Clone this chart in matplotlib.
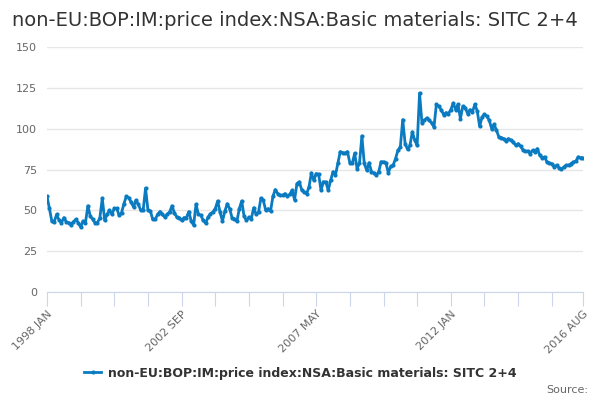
import matplotlib
matplotlib.use("Agg")
import matplotlib.pyplot as plt
from matplotlib.lines import Line2D

title = "non-EU:BOP:IM:price index:NSA:Basic materials: SITC 2+4"
series_name = "non-EU:BOP:IM:price index:NSA:Basic materials: SITC 2+4"

values_1998_2003 = [
    58.5, 51.2, 43.4, 43.0, 47.5, 44.0, 42.4, 45.5, 43.0, 42.4, 41.3, 43.0,
    44.4, 42.4, 39.7, 43.4, 42.4, 52.7, 46.5, 44.4, 42.4, 42.4, 45.5, 57.4,
    43.8, 47.5, 50.0, 47.5, 51.2, 51.2, 46.9, 48.5, 54.0, 58.5, 57.8, 55.0,
    52.0, 56.2, 53.7, 50.0, 50.0, 63.6, 50.0, 49.6, 44.4, 44.4, 47.5, 49.2,
    47.5, 45.9, 47.5, 49.0, 52.7, 48.5, 45.9, 45.5, 43.8, 45.5, 45.5, 49.2,
    43.4, 40.9, 53.7, 47.5,
]
values_2003_2009 = [
    47.0, 43.8, 42.1, 45.8, 47.9, 48.9, 51.0, 55.7, 48.9, 43.4, 49.5, 54.0,
    51.0, 45.4, 44.8, 43.2, 51.0, 55.7, 46.3, 43.8, 45.8, 44.8, 51.6, 47.5,
    48.9, 57.5, 56.1, 50.0, 51.0, 49.5, 58.6, 62.7, 60.2, 59.2, 59.2, 60.2,
    58.6, 59.8, 62.3, 56.5, 66.4, 67.4, 62.3, 61.2, 60.2, 64.3, 72.9, 68.4,
    72.5, 72.1, 62.3, 67.4, 67.4, 62.3, 68.4, 73.6, 71.5, 78.7, 85.9, 85.3,
    84.9, 85.9, 79.1, 78.7, 84.9, 75.6, 78.7, 95.5, 78.7, 74.6, 79.1, 73.6,
    72.9, 71.5, 73.6, 79.7, 79.7, 79.1, 72.9,
]
values_2009_2016 = [
    76.9, 77.6, 81.6, 86.7, 88.8, 105.5, 90.8, 87.3, 89.8, 98.0, 92.9, 89.8,
    121.8, 103.5, 105.1, 106.5, 105.1, 103.5, 101.0, 114.9, 113.7, 111.6, 108.6, 109.8,
    109.2, 111.6, 115.7, 111.6, 114.9, 106.1, 113.7, 112.9, 109.2, 111.6, 110.2, 114.9,
    110.8, 101.4, 107.1, 108.8, 107.6, 105.1, 100.0, 102.7, 99.0, 94.9, 94.5, 93.9,
    92.4, 93.9, 92.9, 91.8, 89.8, 90.8, 89.2, 87.1, 86.1, 86.3, 84.7, 86.7,
    85.7, 87.8, 83.7, 82.2, 82.7, 79.6, 79.0, 78.6, 76.5, 77.6, 76.1, 75.1,
    76.5, 77.6, 77.6, 78.6, 79.6, 80.0, 82.7, 82.2, 82.2,
]
values = values_1998_2003 + values_2003_2009 + values_2009_2016

months = ["JAN", "FEB", "MAR", "APR", "MAY", "JUN", "JUL", "AUG", "SEP", "OCT", "NOV", "DEC"]
categories = [f"{1998 + k // 12} {months[k % 12]}" for k in range(len(values))]
label_positions = [0, 56, 112, 168, 223]
y_ticks = [0, 25, 50, 75, 100, 125, 150]

color = "#0a7bc1"
fig = plt.figure(figsize=(6, 4), dpi=100)
ax = fig.add_axes([47 / 600, 1 - 292 / 400, 536 / 600, 245 / 400])
x = list(range(len(values)))
ax.plot(x, values, color=color, lw=2, marker="o", ms=3.0, mew=0, zorder=3)

ax.set_xlim(0, len(values) - 1)
ax.set_ylim(0, 150)
ax.set_yticks(y_ticks)
ax.set_yticklabels([str(t) for t in y_ticks])
ax.grid(axis="y", color="#e6e6e6", lw=1)
ax.set_axisbelow(True)
for s in ["top", "right", "left"]:
    ax.spines[s].set_visible(False)
ax.spines["bottom"].set_color("#ccd6eb")
ax.tick_params(axis="y", length=0, labelsize=8, labelcolor="#666666", pad=7)

minor = list(range(0, len(values), 14)) + [len(values) - 1]
ax.set_xticks(minor)
ax.set_xticklabels([categories[i] if i in label_positions else "" for i in minor],
                   rotation=45, ha="right", rotation_mode="anchor")
ax.tick_params(axis="x", length=10, color="#ccd6eb", labelsize=8, labelcolor="#666666", pad=2)

fig.text(12 / 600, 1 - 20 / 400, title, fontsize=14, color="#333333", va="center", ha="left")

handle = Line2D([], [], color=color, lw=2, marker="o", ms=3.0, mew=0)
fig.legend([handle], [series_name], loc="center", bbox_to_anchor=(0.5, 1 - 373 / 400),
           frameon=False, prop={"size": 9, "weight": "bold"}, labelcolor="#333333",
           handlelength=1.4, handletextpad=0.5)
fig.text(588 / 600, 1 - 390 / 400, "Source:", fontsize=8, color="#666666", ha="right", va="center")

fig.savefig("out.png", dpi=100)
